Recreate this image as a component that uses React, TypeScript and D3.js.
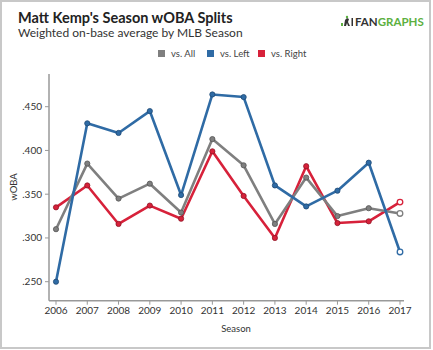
import { useEffect, useRef } from "react";
import * as d3 from "d3";

const seasons = [2006, 2007, 2008, 2009, 2010, 2011, 2012, 2013, 2014, 2015, 2016, 2017];
const vsAll = [0.310, 0.385, 0.345, 0.362, 0.329, 0.413, 0.383, 0.316, 0.369, 0.325, 0.334, 0.328];
const vsLeft = [0.250, 0.431, 0.420, 0.445, 0.349, 0.464, 0.461, 0.360, 0.336, 0.354, 0.386, 0.284];
const vsRight = [0.335, 0.360, 0.316, 0.337, 0.322, 0.399, 0.348, 0.300, 0.382, 0.317, 0.319, 0.341];
const yTicks = [0.25, 0.3, 0.35, 0.4, 0.45];

const series = [
  { name: "vs. All", values: vsAll, color: "#7f7f7f", dark: "#555" },
  { name: "vs. Left", values: vsLeft, color: "#2f6ba5", dark: "#1f4a75" },
  { name: "vs. Right", values: vsRight, color: "#d7213a", dark: "#8e1626" },
];

export default function App() {
  const ref = useRef<SVGSVGElement>(null);

  useEffect(() => {
    if (!ref.current) return;
    document.body.style.margin = "0";
    const W = 433, H = 350;
    const svg = d3.select(ref.current).attr("width", W).attr("height", H);
    svg.selectAll("*").remove();
    const font = "Lato, 'Open Sans', sans-serif";

    svg.append("rect").attr("x", 1).attr("y", 1).attr("width", W - 4).attr("height", H - 3)
      .attr("fill", "white").attr("stroke", "#c8c8c8").attr("stroke-width", 2);

    // Title block
    svg.append("text").attr("x", 18).attr("y", 23).attr("font-family", font)
      .attr("font-size", 14.5).attr("font-weight", 700).attr("fill", "#222")
      .text("Matt Kemp's Season wOBA Splits");
    svg.append("text").attr("x", 18).attr("y", 37).attr("font-family", font)
      .attr("font-size", 12).attr("fill", "#333")
      .text("Weighted on-base average by MLB Season");

    // Logo
    const logo = svg.append("text").attr("x", 355).attr("y", 26).attr("font-family", font)
      .attr("font-size", 11.5).attr("font-weight", 700);
    logo.append("tspan").attr("fill", "#333").text("FAN");
    logo.append("tspan").attr("fill", "#5cb040").text("GRAPHS");
    svg.append("rect").attr("x", 341).attr("y", 23).attr("width", 2).attr("height", 3).attr("fill", "#5cb040");
    svg.append("path").attr("d", "M344,26 L345,20 L347,18 L349,19 L348,22 L350,26 L348,26 L347,23 L346,26 Z").attr("fill", "#333");
    svg.append("circle").attr("cx", 347).attr("cy", 17).attr("r", 1.2).attr("fill", "#5cb040");
    svg.append("rect").attr("x", 351.5).attr("y", 18).attr("width", 1.5).attr("height", 8).attr("fill", "#333");

    // Legend
    const legX = [158, 207, 258];
    series.forEach((s, i) => {
      svg.append("rect").attr("x", legX[i]).attr("y", 50).attr("width", 7).attr("height", 7).attr("fill", s.color);
      svg.append("text").attr("x", legX[i] + 13).attr("y", 57).attr("font-family", font)
        .attr("font-size", 9.5).attr("fill", "#444").text(s.name);
    });

    // Scales
    const x = d3.scaleLinear().domain([2006, 2017]).range([56, 400]);
    const y = d3.scaleLinear().domain([0.25, 0.45]).range([281.7, 106.7]);
    const yTop = 74, yBot = 300.7, xL = 49, xR = 404;

    const axisColor = "#999";
    svg.append("line").attr("x1", xL).attr("x2", xL).attr("y1", yTop).attr("y2", yBot)
      .attr("stroke", axisColor).attr("stroke-width", 1.5);
    svg.append("line").attr("x1", xL).attr("x2", xR).attr("y1", yBot).attr("y2", yBot)
      .attr("stroke", axisColor).attr("stroke-width", 1.5);

    yTicks.forEach(t => {
      svg.append("line").attr("x1", xL - 4).attr("x2", xL).attr("y1", y(t)).attr("y2", y(t))
        .attr("stroke", axisColor).attr("stroke-width", 1);
      svg.append("text").attr("x", xL - 7).attr("y", y(t)).attr("dy", "0.35em")
        .attr("text-anchor", "end").attr("font-family", font).attr("font-size", 10).attr("fill", "#333")
        .text(d3.format(".3f")(t).replace(/^0/, ""));
    });
    seasons.forEach(s => {
      svg.append("line").attr("x1", x(s)).attr("x2", x(s)).attr("y1", yBot).attr("y2", yBot + 4)
        .attr("stroke", axisColor).attr("stroke-width", 1);
      svg.append("text").attr("x", x(s)).attr("y", 314).attr("text-anchor", "middle")
        .attr("font-family", font).attr("font-size", 10).attr("fill", "#333").text(s);
    });

    svg.append("text").attr("x", 236).attr("y", 332).attr("text-anchor", "middle")
      .attr("font-family", font).attr("font-size", 9.5).attr("fill", "#333").text("Season");
    svg.append("text").attr("transform", "rotate(-90)").attr("x", -187).attr("y", 17)
      .attr("text-anchor", "middle").attr("font-family", font).attr("font-size", 9.5)
      .attr("fill", "#333").text("wOBA");

    const line = d3.line<number>().x((_, i) => x(seasons[i])).y(d => y(d));
    const order = [2, 0, 1];
    order.forEach(k => {
      const s = series[k];
      svg.append("path").datum(s.values).attr("d", line).attr("fill", "none")
        .attr("stroke", s.color).attr("stroke-width", 2.6).attr("stroke-linejoin", "round");
    });
    order.forEach(k => {
      const s = series[k];
      s.values.forEach((v, i) => {
        const last = i === s.values.length - 1;
        svg.append("circle").attr("cx", x(seasons[i])).attr("cy", y(v)).attr("r", last ? 2.8 : 2.6)
          .attr("fill", last ? "white" : s.color)
          .attr("stroke", last ? s.color : s.dark).attr("stroke-width", last ? 1.3 : 0.8);
      });
    });
  }, []);

  return (
    <div style={{ position: "absolute", left: 0, top: 0 }}>
      <svg ref={ref} style={{ display: "block" }} />
    </div>
  );
}
